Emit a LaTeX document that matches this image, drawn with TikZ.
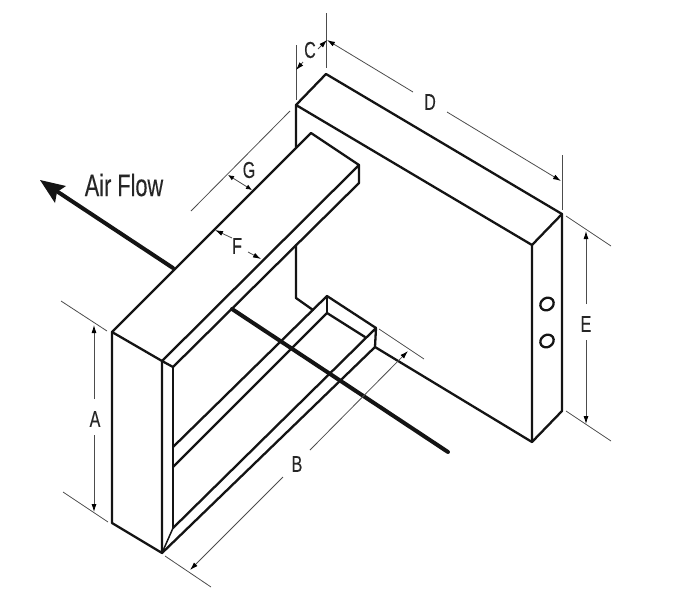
\documentclass[tikz,border=0pt]{standalone}
\usepackage{fontspec}
\setmainfont[FakeStretch=0.7,FakeBold=0.2]{Liberation Sans}
\usetikzlibrary{arrows.meta}
\tikzset{
  body/.style={line width=2.3pt,line join=round,line cap=round,black!92},
  dim/.style={line width=0.8pt,black!70},
  dimarrow/.style={dim,-{Latex[length=8pt,width=5pt,black]}},
  air/.style={line width=4pt,black!92,line cap=round},
  lab/.style={font=\fontsize{23}{25}\selectfont,text=black!85,inner sep=0pt},
}
\begin{document}
\begin{tikzpicture}[x=1pt,y=-1pt]
\useasboundingbox (0,0) rectangle (686,600);
% back box
\draw[body] (296,147) -- (296,105) -- (326,74) -- (562,214) -- (562,411) -- (532,442) -- (532,245) -- (296,105);
\draw[body] (532,245) -- (562,214);
\draw[body] (296,245) -- (296,298) -- (313,310);
\draw[body] (375,347) -- (532,442);
\draw[body,rotate around={35:(547,304)}] (547,304) ellipse [x radius=7pt,y radius=6pt];
\draw[body,rotate around={35:(547,341)}] (547,341) ellipse [x radius=7pt,y radius=6pt];
% front frame
\draw[body] (311,133) -- (112,332) -- (112,523) -- (162,553) -- (162,361) -- (112,332);
\draw[body] (311,133) -- (359,165) -- (359,183) -- (173,367) -- (162,361) -- (359,165);
\draw[body] (173,367) -- (173,528);
\draw[body,line width=1.5pt] (173,528) -- (162,553);
\draw[body] (173,528) -- (376,328) -- (375,347) -- (162,553);
\draw[body] (173,447) -- (327,296) -- (376,328);
\draw[body] (173,467) -- (327,313) -- (365,337);
\draw[body] (327,296) -- (327,313);
% air flow
\coordinate (airtip) at (40,180);
\coordinate (airstart) at (173,268);
\draw[air] (airstart) -- (58,192);
\fill[black!92] (airtip) -- (66,186) -- (57,192) -- (55,203) -- cycle;
\draw[air] (232,309) -- (448,452);
\node[font=\fontsize{31}{33}\selectfont,text=black!85,inner sep=0pt] (airlabel) at (124,185) {Air Flow};
% extension lines
\draw[dim] (296,45) -- (296,100);
\draw[dim] (326,13) -- (326,68);
\draw[dim] (562,155) -- (562,210);
\draw[dim] (566,216) -- (611,246);
\draw[dim] (566,411) -- (611,441);
\draw[dim] (61,301) -- (107,331);
\draw[dim] (63,492) -- (108,522);
\draw[dim] (165,556) -- (211,587);
\draw[dim] (379,329) -- (424,359);
\draw[dim] (191,211) -- (290,111);
% labels
\node[lab] (C) at (310,50) {C};
\node[lab] (D) at (430,102) {D};
\node[lab] (E) at (586,324) {E};
\node[lab] (A) at (95,419) {A};
\node[lab] (B) at (297,464) {B};
\node[lab] (G) at (249,170) {G};
\node[lab] (F) at (237,246) {F};
% dimension arrows
\draw[dimarrow] (303,62) -- (296,70);
\draw[dimarrow] (318,49) -- (327,40);
\draw[dimarrow] (413,92) -- (327,40);
\draw[dimarrow] (447,112) -- (561,181);
\draw[dimarrow] (586,304) -- (586,231);
\draw[dimarrow] (586,340) -- (586,424);
\draw[dimarrow] (94,399) -- (94,325);
\draw[dimarrow] (94,435) -- (94,512);
\draw[dimarrow] (283,477) -- (190,570);
\draw[dimarrow] (310,450) -- (408,351);
\draw[{Latex[length=6pt,width=5pt,black]}-{Latex[length=6pt,width=5pt,black]},dim] (228,175) -- (252,190);
\draw[dimarrow] (232,238) -- (215,230);
\draw[dimarrow] (248,252) -- (261,259);
\end{tikzpicture}
\end{document}
